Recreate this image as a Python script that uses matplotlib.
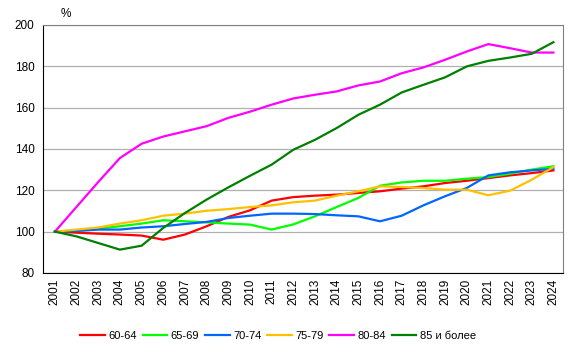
"""Ratio of population by age group, 2001 = 100%."""

import matplotlib.pyplot as plt

plt.rcParams['font.family'] = ['Liberation Sans', 'DejaVu Sans']

years = list(range(2001, 2025))

age_60_64 = [100, 99.5, 99.0, 98.6, 98.1, 96.1, 98.6, 102.6, 107.1, 110.3, 115.0, 116.7,
             117.4, 117.9, 118.7, 119.5, 120.8, 121.9, 123.5, 124.6, 125.9, 127.2, 128.3, 129.6]
age_65_69 = [100, 100.6, 101.5, 102.6, 103.9, 105.5, 105.0, 104.5, 103.9, 103.4, 101.0, 103.5,
             107.4, 111.9, 116.3, 122.2, 123.8, 124.6, 124.6, 125.6, 126.4, 128.0, 130.0, 131.6]
age_70_74 = [100, 100.3, 101.0, 101.0, 102.0, 102.6, 103.7, 104.7, 106.6, 107.7, 108.7, 108.7,
             108.5, 107.9, 107.4, 105.0, 107.7, 112.7, 117.1, 121.1, 127.2, 128.7, 129.6, 130.4]
age_75_79 = [100, 101.0, 102.0, 103.9, 105.5, 107.7, 108.7, 110.1, 110.9, 111.9, 112.7, 114.2,
             115.0, 117.4, 119.5, 121.9, 121.6, 121.1, 120.3, 120.3, 117.6, 119.8, 125.1, 131.2]
age_80_84 = [100, 112.0, 124.0, 135.6, 142.5, 146.0, 148.5, 151.0, 155.0, 158.0, 161.4, 164.4,
             166.2, 167.8, 170.7, 172.6, 176.6, 179.4, 183.1, 187.1, 190.7, 188.7, 186.6, 186.6]
age_85_plus = [100, 97.7, 94.5, 91.3, 93.2, 101.8, 109.0, 115.5, 121.4, 127.0, 132.4, 139.6,
               144.4, 150.1, 156.5, 161.4, 167.3, 171.0, 174.6, 179.9, 182.6, 184.2, 186.0, 191.6]

series = [
    ('60-64', age_60_64, '#FF0000'),
    ('65-69', age_65_69, '#00FF00'),
    ('70-74', age_70_74, '#0066FF'),
    ('75-79', age_75_79, '#FFC000'),
    ('80-84', age_80_84, '#FF00FF'),
    ('85 и более', age_85_plus, '#008000'),
]

fig = plt.figure(figsize=(5.77, 3.55), dpi=100)
ax = fig.add_axes([0.0745, 0.231, 0.9015, 0.699])

x = list(range(len(years)))
for label, values, color in series:
    ax.plot(x, values, color=color, linewidth=1.6, label=label)

ax.set_ylim(80, 200)
ax.set_yticks(range(80, 201, 20))
ax.set_xlim(-0.55, len(years) - 0.55)
ax.set_xticks(x)
ax.set_xticklabels([str(y) for y in years], rotation=90, fontsize=8.5)
ax.tick_params(axis='y', labelsize=8.5, length=0, pad=6)
ax.tick_params(axis='x', length=0, pad=4)
ax.grid(axis='y', color='#B0B0B0', linewidth=0.9)
ax.set_axisbelow(True)

for side in ('top', 'right'):
    ax.spines[side].set_color('#808080')
for side in ('left', 'bottom'):
    ax.spines[side].set_color('black')

fig.text(0.105, 0.96, '%', fontsize=8.5, ha='left', va='center')

fig.legend(loc='center', bbox_to_anchor=(0.482, 0.054), ncol=6, frameon=False,
           fontsize=8, handlelength=2.2, handletextpad=0.3, columnspacing=0.55)

plt.savefig('out.png', dpi=100)
plt.close()
